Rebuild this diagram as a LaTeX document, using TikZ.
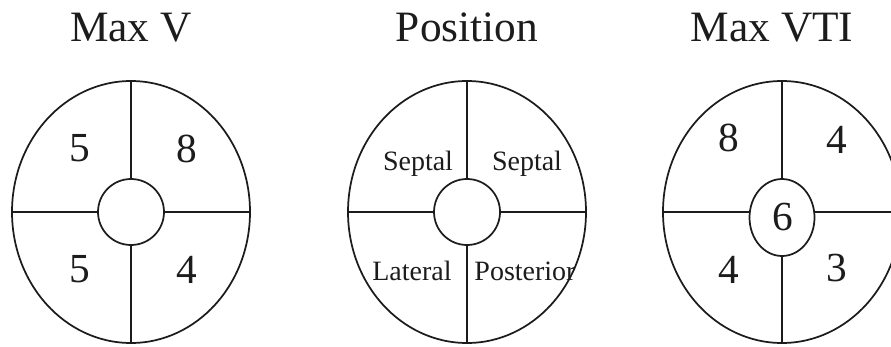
\documentclass[tikz,border=0pt]{standalone}
\usepackage{fontspec}
\setmainfont{Liberation Serif}
\usetikzlibrary{shapes.geometric}
\definecolor{ink}{HTML}{1C1C1C}

\begin{document}
\begin{tikzpicture}[x=0.75pt,y=-0.75pt,line width=1.3pt,
  rim/.style={draw=ink,ellipse,inner sep=0pt,minimum width=178.5pt,minimum height=196.5pt},
  hub/.style={draw=ink,circle,inner sep=0pt,minimum size=49.5pt},
  head/.style={font=\fontsize{32.5}{34}\selectfont,text=ink,anchor=base},
  num/.style={font=\fontsize{31}{33}\selectfont,text=ink},
  lbl/.style={font=\fontsize{21}{23}\selectfont,text=ink,anchor=base}]
\clip (0,0) rectangle (891,346);

\node[head] (tv) at (131,41) {Max V};
\node[head] (tp) at (467,41) {Position};
\node[head] (tt) at (772,41) {Max VTI};

\node[rim] (ov) at (131,212) {};
\node[hub] (iv) at (131,212) {};
\draw[ink] (ov.north)--(iv.north) (iv.south)--(ov.south) (ov.west)--(iv.west) (iv.east)--(ov.east);
\node[num] (v1) at (80,148) {5};
\node[num] (v2) at (187,149) {8};
\node[num] (v3) at (80,269) {5};
\node[num] (v4) at (187,270) {4};

\node[rim] (op) at (467,212) {};
\node[hub] (ip) at (467,212) {};
\draw[ink] (op.north)--(ip.north) (ip.south)--(op.south) (op.west)--(ip.west) (ip.east)--(op.east);
\node[lbl] (p1) at (418,170) {Septal};
\node[lbl] (p2) at (527,170) {Septal};
\node[lbl] (p3) at (412,280) {Lateral};
\node[lbl] (p4) at (525,280) {Posterior};

\node[rim] (ot) at (782,212) {};
\node[hub,ellipse,minimum width=48.75pt,minimum height=57.75pt] (it) at (782,217.5) {};
\draw[ink] (ot.north)--(it.north) (it.south)--(ot.south)
  (ot.west)--(it.west |- ot.west) (it.east |- ot.east)--(ot.east);
\node[num] (t1) at (729,138) {8};
\node[num] (t2) at (837,140) {4};
\node[num] (t0) at (783,217) {6};
\node[num] (t3) at (729,270) {4};
\node[num] (t4) at (837,268) {3};
\end{tikzpicture}
\end{document}
